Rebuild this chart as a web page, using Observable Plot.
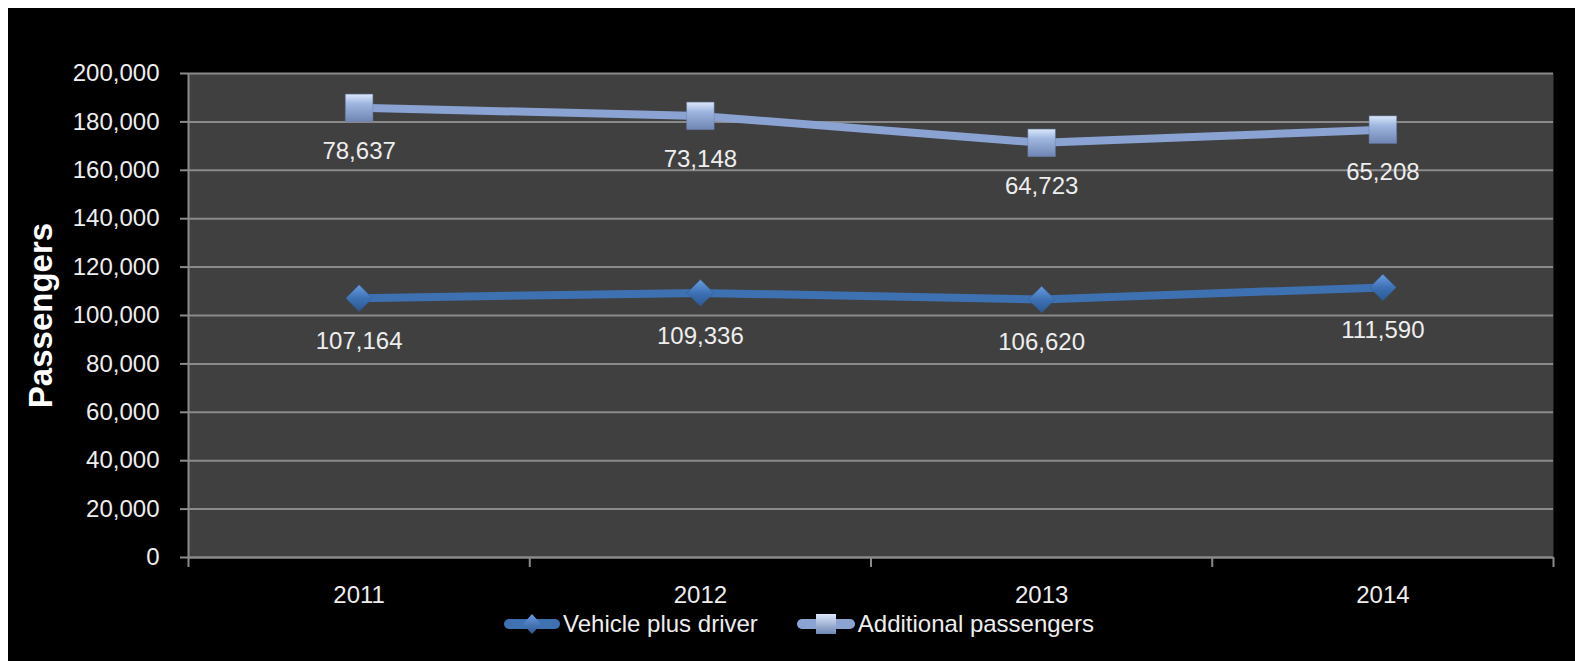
<!DOCTYPE html>
<html><head><meta charset="utf-8">
<script src="https://cdn.jsdelivr.net/npm/d3@7"></script>
<script src="https://cdn.jsdelivr.net/npm/@observablehq/plot@0.6"></script>
<style>
body{margin:0;background:#fff;}
#wrap{position:absolute;left:8px;top:8px;width:1567px;height:653px;background:#000;overflow:hidden;}
#legend{display:flex;justify-content:center;align-items:center;height:32px;font-family:"Liberation Sans",Arial,sans-serif;font-size:24px;color:#eeeeee;padding-left:14px;}
#legend .item{display:flex;align-items:center;margin:0 19px;}
#legend svg{display:block;margin-right:2px;}
</style></head>
<body><div id="wrap"><div id="chart"></div><div id="legend"></div></div>
<script>
const years = [2011, 2012, 2013, 2014];
const vehiclePlusDriver = [107164, 109336, 106620, 111590];
const additionalPassengers = [78637, 73148, 64723, 65208];
const yTicks = [0, 20000, 40000, 60000, 80000, 100000, 120000, 140000, 160000, 180000, 200000];
const seriesNames = ["Vehicle plus driver", "Additional passengers"];
const seriesColors = ["#3e71b2", "#8aa3d3"];
const yTitle = "Passengers";

// stacked table
const rows1 = years.map((y, i) => ({year: y, series: seriesNames[0], value: vehiclePlusDriver[i], top: vehiclePlusDriver[i]}));
const rows2 = years.map((y, i) => ({year: y, series: seriesNames[1], value: additionalPassengers[i], top: vehiclePlusDriver[i] + additionalPassengers[i]}));
const boundaries = years.map(y => y - 0.5).concat([years[years.length - 1] + 0.5]);
const fmt = d3.format(",");
const gridColor = "#8a8a8a";
const textColor = "#eeeeee";

const chart = Plot.plot({
  width: 1567,
  height: 600,
  marginLeft: 180,
  marginRight: 22,
  marginTop: 65,
  marginBottom: 51,
  style: {background: "transparent", fontFamily: "'Liberation Sans', Arial, sans-serif", fontSize: "24px", color: textColor},
  x: {domain: [boundaries[0], boundaries[boundaries.length - 1]]},
  y: {domain: [0, 200000]},
  marks: [
    Plot.frame({fill: "#404040", stroke: "none"}),
    Plot.gridY(yTicks, {stroke: gridColor, strokeOpacity: 1, strokeWidth: 2}),
    Plot.ruleY([0], {stroke: gridColor, strokeWidth: 2}),
    Plot.ruleX([boundaries[0]], {stroke: gridColor, strokeWidth: 2}),
    Plot.axisY(yTicks, {tickSize: 8, tickPadding: 21, tickFormat: fmt, stroke: gridColor, strokeWidth: 2, fill: textColor, fontSize: 24,
      label: yTitle, labelAnchor: "center", labelArrow: "none", labelOffset: 160}),
    Plot.axisX(boundaries, {tickSize: 10, tickFormat: () => "", stroke: gridColor, strokeWidth: 2, label: null}),
    Plot.axisX(years, {tickSize: 0, tickPadding: 28, tickFormat: d => String(d), fill: textColor, fontSize: 24, label: null}),
    Plot.line(rows1, {x: "year", y: "top", stroke: seriesColors[0], strokeWidth: 8}),
    Plot.line(rows2, {x: "year", y: "top", stroke: seriesColors[1], strokeWidth: 8}),
    Plot.dot(rows1, {x: "year", y: "top", symbol: "diamond2", r: 12, fill: "url(#gradDia)", stroke: "#2d5a92", strokeWidth: 0.5}),
    Plot.dot(rows2, {x: "year", y: "top", symbol: "square", r: 15.5, fill: "url(#gradSq)", stroke: "#6a80ab", strokeWidth: 0.5}),
    Plot.text(rows1, {x: "year", y: "top", text: d => fmt(d.value), dy: 43, fill: textColor, fontSize: 24, lineAnchor: "middle"}),
    Plot.text(rows2, {x: "year", y: "top", text: d => fmt(d.value), dy: 43, fill: textColor, fontSize: 24, lineAnchor: "middle"})
  ]
});

const defs = `<defs>
<linearGradient id="gradSq" x1="0" y1="0" x2="0" y2="1">
<stop offset="0" stop-color="#dbe8fa"/><stop offset="0.35" stop-color="#9fb6e0"/><stop offset="1" stop-color="#6f86b4"/></linearGradient>
<linearGradient id="gradDia" x1="0" y1="0" x2="0" y2="1">
<stop offset="0" stop-color="#6a9be0"/><stop offset="0.5" stop-color="#3e72b5"/><stop offset="1" stop-color="#2b5892"/></linearGradient>
</defs>`;
chart.insertAdjacentHTML("afterbegin", defs);
// title styling
chart.querySelectorAll("text").forEach(t => {
  if (t.textContent === yTitle) { t.setAttribute("font-size", 33); t.setAttribute("font-weight", "bold"); t.setAttribute("fill", "#ffffff"); }
});
document.getElementById("chart").appendChild(chart);

const legend = document.getElementById("legend");
const markerSvg = [
  `<svg width="58" height="26"><defs><linearGradient id="lgD" x1="0" y1="0" x2="0" y2="1"><stop offset="0" stop-color="#6a9be0"/><stop offset="1" stop-color="#2b5892"/></linearGradient></defs><line x1="6" y1="13" x2="52" y2="13" stroke="${seriesColors[0]}" stroke-width="10" stroke-linecap="round"/><path d="M29,3 L38,13 L29,23 L20,13Z" fill="url(#lgD)"/></svg>`,
  `<svg width="60" height="26"><defs><linearGradient id="lgS" x1="0" y1="0" x2="0" y2="1"><stop offset="0" stop-color="#dbe8fa"/><stop offset="1" stop-color="#6f86b4"/></linearGradient></defs><line x1="6" y1="13" x2="54" y2="13" stroke="${seriesColors[1]}" stroke-width="10" stroke-linecap="round"/><rect x="20" y="3" width="20" height="20" fill="url(#lgS)"/></svg>`
];
seriesNames.forEach((name, i) => {
  const item = document.createElement("div");
  item.className = "item";
  item.innerHTML = markerSvg[i] + `<span>${name}</span>`;
  legend.appendChild(item);
});
</script>
</body></html>
